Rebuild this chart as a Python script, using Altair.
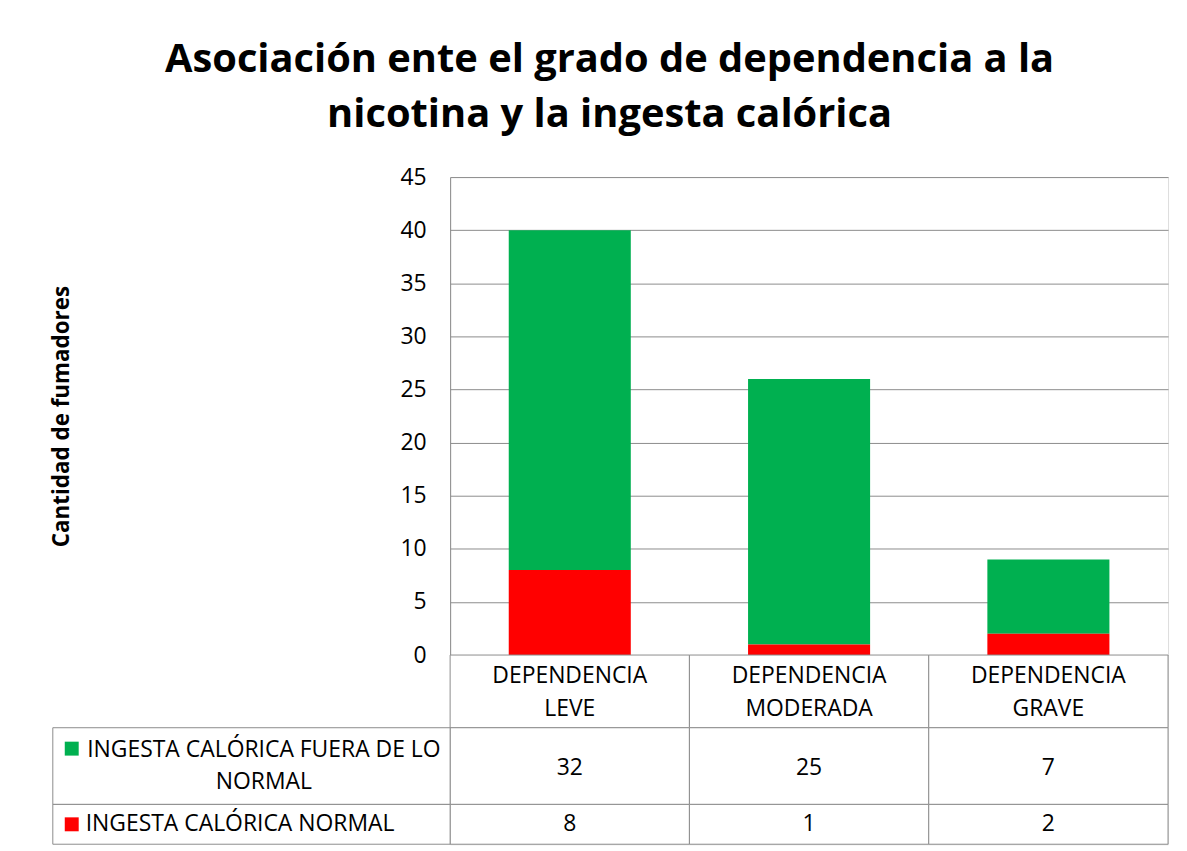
import altair as alt
import pandas as pd

# ---- data ----
categories = ["DEPENDENCIA LEVE", "DEPENDENCIA MODERADA", "DEPENDENCIA GRAVE"]
series = ["INGESTA CALÓRICA FUERA DE LO NORMAL", "INGESTA CALÓRICA NORMAL"]
legend_lines = [["INGESTA CALÓRICA FUERA DE LO", "NORMAL"], ["INGESTA CALÓRICA NORMAL"]]
fuera_de_lo_normal = [32, 25, 7]
normal = [8, 1, 2]
series_colors = ["#00B050", "#FF0000"]
y_ticks = [0, 5, 10, 15, 20, 25, 30, 35, 40, 45]
title_lines = ["Asociación ente el grado de dependencia a la", "nicotina y la ingesta calórica"]
y_title = "Cantidad de fumadores"

records = []
for i, c in enumerate(categories):
    records.append({"cat": c, "serie": series[0], "valor": fuera_de_lo_normal[i], "orden": 1})
    records.append({"cat": c, "serie": series[1], "valor": normal[i], "orden": 0})
df = pd.DataFrame(records)
cat_df = pd.DataFrame({"cat": categories, "header": ["\n".join(c.split(" ")) for c in categories]})

# ---- styling / layout ----
FONT = "Open Sans"
GRID = "#8c8c8c"
PLOT_W = 721
PLOT_H = 480
HEADER_H = 73
ROW_H = [77, 40]
LEGEND_W = 399
TXT = 23

color_scale = alt.Scale(domain=series, range=series_colors)

bars = alt.Chart(df).mark_bar().encode(
    x=alt.X(
        "cat:N", sort=categories,
        scale=alt.Scale(paddingInner=0.49, paddingOuter=0.245),
        axis=alt.Axis(title=None, labels=False, ticks=False, domainColor=GRID, domainWidth=1),
    ),
    y=alt.Y(
        "valor:Q", stack="zero",
        scale=alt.Scale(domain=[0, 45]),
        axis=alt.Axis(
            values=y_ticks, title=y_title, titleFont=FONT, titleFontSize=22.5,
            titleFontWeight="bold", titleColor="#000000", titlePadding=328,
            labelFont=FONT, labelFontSize=23, labelColor="#000000", labelPadding=24,
            ticks=False, grid=True, gridColor=GRID, gridWidth=1,
            domainColor=GRID, domainWidth=1,
        ),
    ),
    color=alt.Color("serie:N", scale=color_scale, legend=None),
    order=alt.Order("orden:Q"),
).properties(width=PLOT_W, height=PLOT_H)

x_cells = alt.X("cat:N", sort=categories, scale=alt.Scale(paddingInner=0, paddingOuter=0), axis=None)

hbase = alt.Chart(cat_df)
header = alt.layer(
    hbase.mark_rect(fill="white", stroke=GRID, strokeWidth=1).encode(
        x=x_cells, y=alt.value(0), y2=alt.value(HEADER_H)
    ),
    hbase.mark_text(font=FONT, fontSize=TXT, color="#000000", align="center",
                    baseline="middle", lineBreak="\n", lineHeight=33).encode(
        x=x_cells, y=alt.value(21), text="header:N"
    ),
).properties(width=PLOT_W, height=HEADER_H)


def row_chart(idx):
    s = series[idx]
    h = ROW_H[idx]
    data = df[df["serie"] == s]
    base = alt.Chart(data)
    cells = base.mark_rect(fill="white", stroke=GRID, strokeWidth=1).encode(
        x=x_cells, y=alt.value(0), y2=alt.value(h)
    )
    vals = base.mark_text(font=FONT, fontSize=TXT, color="#000000", baseline="middle").encode(
        x=x_cells, y=alt.value(h / 2 + (2 if idx == 0 else 0)), text=alt.Text("valor:Q")
    )
    leg_df = pd.DataFrame({"serie": [s], "label": ["\n".join(legend_lines[idx])]})
    lbase = alt.Chart(leg_df)
    leg_cell = lbase.mark_rect(fill="white", stroke=GRID, strokeWidth=1).encode(
        x=alt.value(-LEGEND_W), x2=alt.value(0), y=alt.value(0), y2=alt.value(h)
    )
    sw_y = 21 if idx == 0 else h / 2
    swatch = lbase.mark_square(size=196, opacity=1).encode(
        x=alt.value(-380), y=alt.value(sw_y),
        color=alt.Color("serie:N", scale=color_scale, legend=None),
    )
    if idx == 0:
        lab = lbase.mark_text(font=FONT, fontSize=TXT, color="#000000", align="center",
                              baseline="middle", lineBreak="\n", lineHeight=33).encode(
            x=alt.value(-187), y=alt.value(22), text="label:N"
        )
    else:
        lab = lbase.mark_text(font=FONT, fontSize=TXT, color="#000000", align="left",
                              baseline="middle").encode(
            x=alt.value(-366), y=alt.value(h / 2), text="label:N"
        )
    return alt.layer(cells, leg_cell, vals, swatch, lab).properties(width=PLOT_W, height=h)


chart = alt.vconcat(
    bars, header, row_chart(0), row_chart(1), spacing=0, bounds="flush"
).resolve_scale(
    x="independent"
).properties(
    title=alt.Title(title_lines, font=FONT, fontSize=40, fontWeight="bold", color="#000000",
                    lineHeight=55, anchor="middle", offset=31),
    padding={"left": 42, "top": 30, "right": 10, "bottom": 5},
).configure_view(strokeWidth=0).configure(background="white")

chart.save("out.html", embed_options={"renderer": "svg", "actions": False})
